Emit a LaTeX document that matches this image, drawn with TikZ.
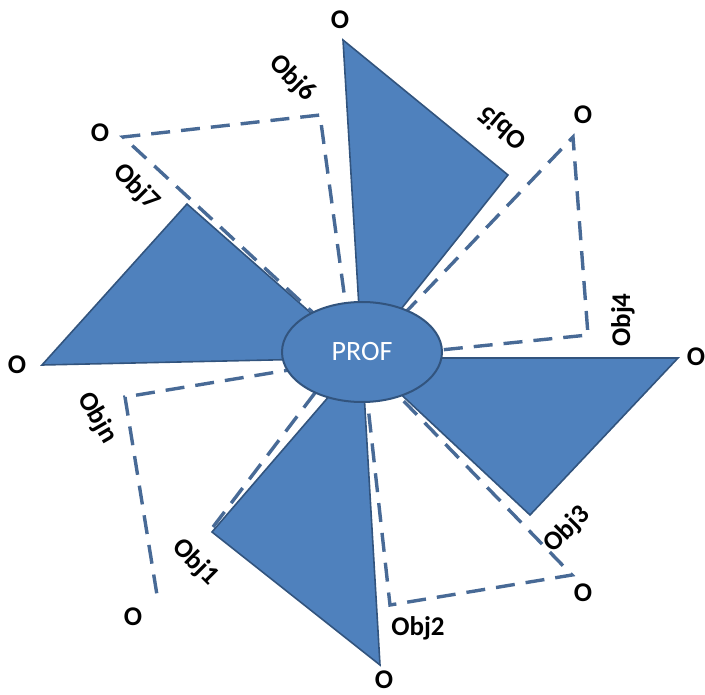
\documentclass[tikz,border=0pt]{standalone}
\usepackage{fontspec}
\setmainfont{Carlito}
\usetikzlibrary{shapes.geometric}

\definecolor{wingblue}{RGB}{79,129,189}
\definecolor{wingedge}{RGB}{50,84,126}
\definecolor{guideblue}{RGB}{72,106,150}

\begin{document}
\begin{tikzpicture}[
				x=1pt, y=-1pt,
				wing/.style = {fill=wingblue, draw=wingedge, line width=1.6pt},
				guide/.style = {draw=guideblue, line width=3.4pt, dash pattern=on 19pt off 11pt},
				lbl/.style = {font=\fontsize{27}{27}\selectfont\bfseries, inner sep=0pt},
			]
			\path[use as bounding box] (0,0) rectangle (705,695);
			\coordinate (C) at (362,358);
			% the four blades
			\draw[wing] (C) -- (343,40) -- (508,175) -- cycle;
			\draw[wing] (C) -- (678,358) -- (530,515) -- cycle;
			\draw[wing] (C) -- (380,665) -- (212,532) -- cycle;
			\draw[wing] (C) -- (42,365) -- (187,204) -- cycle;
			% dashed frames between the blades
			\draw[guide] (352,352) -- (320,115) -- (123,137) -- (C);
			\draw[guide] (C) -- (573,137) -- (588,335) -- (C);
			\draw[guide] (C) -- (572,575) -- (390,605) -- (362,352);
			\draw[guide] (C) -- (125,397) -- (157,595);
			\draw[guide] (213,527) -- (340,360);
			\node[ellipse, fill=wingblue, draw=wingedge, line width=2pt, minimum width=160pt, minimum height=100pt,
				text=white, font=\fontsize{28}{28}\selectfont] (prof) at (362,352) {PROF};
			% end points
			\node[lbl] (o6) at (340,20) {O};
			\node[lbl] (o7) at (100,133) {O};
			\node[lbl] (on) at (17,365) {O};
			\node[lbl] (o1) at (133,617) {O};
			\node[lbl] (o2) at (384,680) {O};
			\node[lbl] (o3) at (583,593) {O};
			\node[lbl] (o4) at (696,357) {O};
			\node[lbl] (o5) at (583,115) {O};
			% object names
			\node[lbl, rotate=-45] (obj6) at (292,78) {Obj6};
			\node[lbl, rotate=-45] (obj7) at (136,187) {Obj7};
			\node[lbl, rotate=140] (obj5) at (503,127) {Obj5};
			\node[lbl, rotate=90] (obj4) at (623,320) {Obj4};
			\node[lbl, rotate=45] (obj3) at (567,530) {Obj3};
			\node[lbl] (obj2) at (418,628) {Obj2};
			\node[lbl, rotate=-45] (obj1) at (195,562) {Obj1};
			\node[lbl, rotate=-60] (objn) at (97,418) {Objn};
		\end{tikzpicture}
\end{document}
